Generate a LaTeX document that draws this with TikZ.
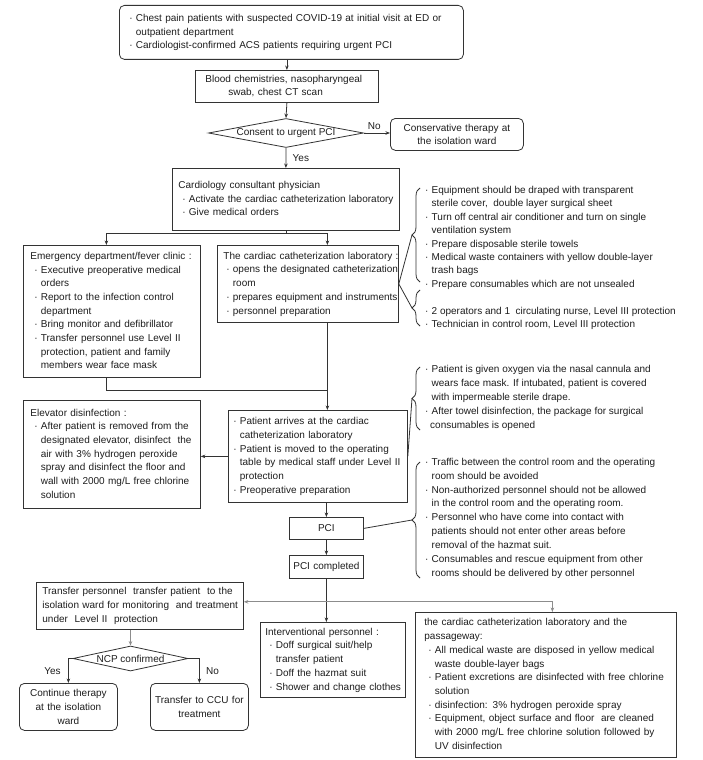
\documentclass[tikz,border=0pt]{standalone}
\usepackage{fontspec}
\setmainfont{Liberation Sans}
\usetikzlibrary{arrows.meta,shapes.geometric,decorations.pathreplacing,calc}
\definecolor{lc}{HTML}{333333}
\definecolor{tc}{HTML}{1E1E1E}
\definecolor{gc}{HTML}{8C8C8C}
\newcommand{\bu}{\makebox[6.5pt][l]{·}}
\newcommand{\ii}{\hspace*{6.5pt}}
\newcommand{\mytab}[2]{\begin{tabular}{@{\hspace{#1}}l@{}}#2\end{tabular}}
\begin{document}
\begin{tikzpicture}[x=1pt,y=-1pt,
  font=\fontsize{10}{13.7}\selectfont, text=tc,
  box/.style={draw=lc, line width=0.8pt, inner sep=0pt, anchor=north west, align=left},
  cbox/.style={draw=lc, line width=0.8pt, inner sep=0pt, anchor=north west, align=center},
  rbox/.style={cbox, rounded corners=5pt},
  arr/.style={draw=lc, line width=0.8pt, -{Stealth[length=4.5pt,width=3.5pt]}},
  conn/.style={draw=lc, line width=0.8pt},
  note/.style={inner sep=0pt, anchor=north west, align=left},
  dia/.style={draw=lc, line width=0.8pt, shape=diamond, inner sep=0pt}]
\useasboundingbox[fill=white] (0,0) rectangle (702,760);

% ---------- nodes ----------
\node[box, rounded corners=5pt, text width=344pt, minimum height=54pt] (top) at (119,5)
 {\mytab{10pt}{\bu Chest pain patients with suspected COVID-19 at initial visit at ED or\\
 \ii outpatient department\\
 \bu Cardiologist-confirmed ACS patients requiring urgent PCI}};

\node[box, text width=183pt, minimum height=32pt] (blood) at (195,70)
 {\mytab{10pt}{Blood chemistries, nasopharyngeal\\ \hspace*{23pt}swab, chest CT scan}};

\node[dia, aspect=5.3, minimum width=155pt, minimum height=29pt] (consent) at (286,133) {Consent to urgent PCI};

\node[rbox, text width=133pt, minimum height=32pt] (cons) at (390,118)
 {Conservative therapy at\\ the isolation ward};

\node[box, text width=227pt, minimum height=62pt] (cardio) at (172,168)
 {\mytab{6pt}{Cardiology consultant physician\\
 \hspace*{4pt}\bu Activate the cardiac catheterization laboratory\\
 \hspace*{4pt}\bu Give medical orders}};

\node[box, text width=177pt, minimum height=132pt] (ed) at (23,245)
 {\mytab{7pt}{Emergency department/fever clinic :\\
 \hspace*{4pt}\bu Executive preoperative medical\\
 \hspace*{4pt}\ii orders\\
 \hspace*{4pt}\bu Report to the infection control\\
 \hspace*{4pt}\ii department\\
 \hspace*{4pt}\bu Bring monitor and defibrillator\\
 \hspace*{4pt}\bu Transfer personnel use Level II\\
 \hspace*{4pt}\ii protection, patient and family\\
 \hspace*{4pt}\ii members wear face mask}};

\node[box, text width=181pt, minimum height=77pt] (lab) at (217,245)
 {\mytab{6pt}{The cardiac catheterization laboratory :\\
 \hspace*{3pt}\bu opens the designated catheterization\\
 \hspace*{3pt}\ii room\\
 \hspace*{3pt}\bu prepares equipment and instruments\\
 \hspace*{3pt}\bu personnel preparation}};

\node[box, text width=179pt, minimum height=92pt] (pat) at (228,410)
 {\mytab{5pt}{\bu Patient arrives at the cardiac\\
 \ii catheterization laboratory\\
 \bu Patient is moved to the operating\\
 \ii table by medical staff under Level II\\
 \ii protection\\
 \bu Preoperative preparation}};

\node[box, text width=177pt, minimum height=108pt] (elev) at (23,400)
 {\mytab{7pt}{Elevator disinfection :\\
 \hspace*{4pt}\bu After patient is removed from the\\
 \hspace*{4pt}\ii designated elevator, disinfect\ \ the\\
 \hspace*{4pt}\ii air with 3\% hydrogen peroxide\\
 \hspace*{4pt}\ii spray and disinfect the floor and\\
 \hspace*{4pt}\ii wall with 2000 mg/L free chlorine\\
 \hspace*{4pt}\ii solution}};

\node[cbox, text width=74pt, minimum height=22pt] (pci) at (289,517) {PCI};
\node[cbox, text width=74pt, minimum height=23pt] (pcic) at (289,555) {PCI completed};

\node[box, text width=207pt, minimum height=47pt] (trans) at (36,582)
 {\mytab{6pt}{Transfer personnel\ \ transfer patient\ \ to the\\
 isolation ward for monitoring\ \ and treatment\\
 under\ \ Level II\ \ protection}};

\node[box, text width=145pt, minimum height=75pt] (inter) at (260,622)
 {\mytab{5pt}{Interventional personnel :\\
 \hspace*{4pt}\bu Doff surgical suit/help\\
 \hspace*{4pt}\ii transfer patient\\
 \hspace*{4pt}\bu Doff the hazmat suit\\
 \hspace*{4pt}\bu Shower and change clothes}};

\node[box, text width=261pt, minimum height=145pt] (waste) at (415,612)
 {\mytab{9pt}{the cardiac catheterization laboratory and the\\
 passageway:\\
 \hspace*{4pt}\bu All medical waste are disposed in yellow medical\\
 \hspace*{4pt}\ii waste double-layer bags\\
 \hspace*{4pt}\bu Patient excretions are disinfected with free chlorine\\
 \hspace*{4pt}\ii solution\\
 \hspace*{4pt}\bu disinfection: 3\% hydrogen peroxide spray\\
 \hspace*{4pt}\bu Equipment, object surface and floor\ \ are cleaned\\
 \hspace*{4pt}\ii with 2000 mg/L free chlorine solution followed by\\
 \hspace*{4pt}\ii UV disinfection}};

\node[dia, aspect=4.6, minimum width=115pt, minimum height=25pt] (ncp) at (130.5,658.5) {NCP confirmed};

\node[rbox, text width=98pt, minimum height=47pt] (cont) at (19,683)
 {Continue therapy\\ at the isolation\\ ward};
\node[rbox, text width=98pt, minimum height=47pt] (ccu) at (150,683)
 {Transfer to CCU for\\ treatment};

% ---------- side notes ----------
\node[note, font=\fontsize{10}{13.45}\selectfont] (n1) at (425,183.6)
 {\mytab{0pt}{\bu Equipment should be draped with transparent\\
 \ii sterile cover,\ \ double layer surgical sheet\\
 \bu Turn off central air conditioner and turn on single\\
 \ii ventilation system\\
 \bu Prepare disposable sterile towels\\
 \bu Medical waste containers with yellow double-layer\\
 \ii trash bags\\
 \bu Prepare consumables which are not unsealed\\
 \\
 \bu 2 operators and 1\ \ circulating nurse, Level III protection\\
 \bu Technician in control room, Level III protection}};

\node[note, font=\fontsize{10}{14}\selectfont] (n3) at (425,362.2)
 {\mytab{0pt}{\bu Patient is given oxygen via the nasal cannula and\\
 \ii wears face mask. If intubated, patient is covered\\
 \ii with impermeable sterile drape.\\
 \bu After towel disinfection, the package for surgical\\
 \hspace*{5pt}consumables is opened}};

\node[note, font=\fontsize{10}{13.9}\selectfont] (n4) at (425,455.3)
 {\mytab{0pt}{\bu Traffic between the control room and the operating\\
 \ii room should be avoided\\
 \bu Non-authorized personnel should not be allowed\\
 \ii in the control room and the operating room.\\
 \bu Personnel who have come into contact with\\
 \ii patients should not enter other areas before\\
 \ii removal of the hazmat suit.\\
 \bu Consumables and rescue equipment from other\\
 \ii rooms should be delivered by other personnel}};

% ---------- braces ----------
\draw[conn, decorate, decoration={brace, amplitude=8pt}] (420,282) -- (420,188);
\draw[conn, decorate, decoration={brace, amplitude=8pt}] (420,326) -- (420,290);
\draw[conn, decorate, decoration={brace, amplitude=8pt}] (420,430) -- (420,367);
\draw[conn, decorate, decoration={brace, amplitude=8pt}] (420,578) -- (420,462);
\coordinate (t1) at (412,235);
\coordinate (t2) at (412,308);
\coordinate (t3) at (412,398.5);
\coordinate (t4) at (412,520);

% ---------- connectors ----------
\draw[arr] (top.south -| blood.north) -- (blood.north);
\draw[arr] (blood.south) -- (consent.north);
\draw[arr] (consent.east) -- (consent.east -| cons.west) node[pos=0.4, above] {No};
\draw[arr] (consent.south) -- (cardio.north) node[midway, right, xshift=3pt] {Yes};

\draw[conn] (cardio.south) -- ++(0,3) coordinate (j1);
\draw[arr] (j1) -| ([xshift=-5.5pt]ed.north);
\draw[arr] (j1) -| ([xshift=19.5pt]lab.north);

\draw[arr] ([xshift=19.5pt]lab.south) -- ([xshift=9.5pt]pat.north);
\draw[conn] ([xshift=-5.5pt]ed.south) |- ([xshift=9.5pt,yshift=20pt]pat.north);

\draw[arr] (pat.west) -- (pat.west -| elev.east);
\draw[arr] (pci.north |- pat.south) -- (pci.north);
\draw[arr] (pci.south) -- (pcic.north);
\draw[arr] (pcic.south) -- (pcic.south |- inter.north);
\coordinate (split) at ($(pcic.south)+(0,23)$);
\draw[arr, draw=gc] (split) -- (split -| trans.east);
\draw[arr, draw=gc] (split) -| ([xshift=6.5pt]waste.north);

\draw[conn] (lab.east) -- (t1);
\draw[conn] (lab.east) -- (t2);
\draw[conn] (pat.east) -- (t3);
\draw[conn] (pci.east) -- (t4);

\draw[arr, draw=gc] (ncp.north |- trans.south) -- (ncp.north);
\draw[arr] (ncp.west) -| (cont.north) node[pos=0.75, left, xshift=-4pt] {Yes};
\draw[arr] (ncp.east) -| (ccu.north) node[pos=0.75, right, xshift=3pt] {No};
\end{tikzpicture}
\end{document}
